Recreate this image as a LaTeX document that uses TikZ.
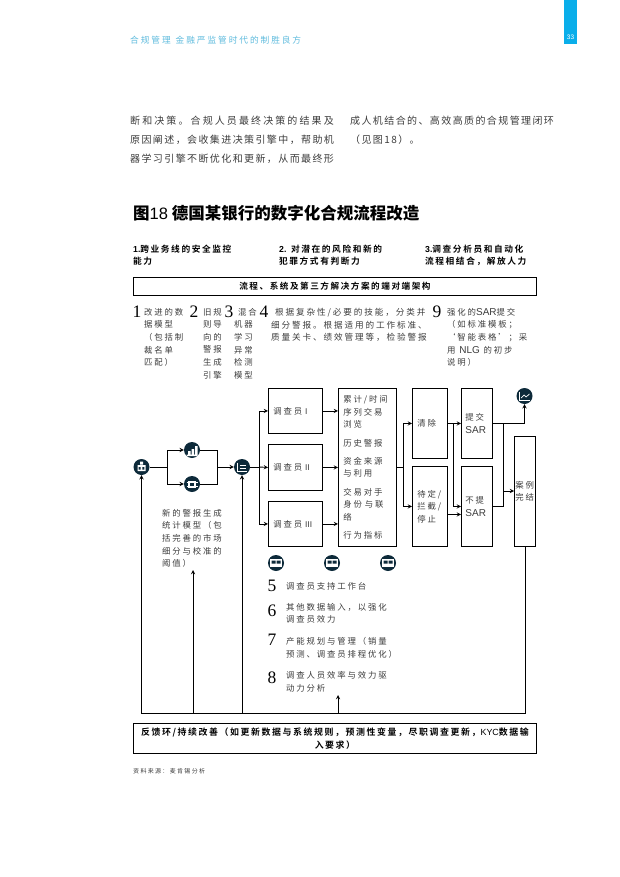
\documentclass[tikz,border=0pt]{standalone}
\usepackage{fontspec}
\setmainfont{Noto Sans CJK SC}
\newfontfamily\arl{Liberation Sans}
\newfontfamily\numf{Liberation Serif}
\newfontfamily\wide[LetterSpace=22]{Noto Sans CJK SC}
\newfontfamily\bodyfont[LetterSpace=14]{Noto Sans CJK SC}
\newfontfamily\bodyfontb[LetterSpace=21]{Noto Sans CJK SC}
\newfontfamily\widebf[LetterSpace=18,BoldFont={Noto Sans CJK SC Bold}]{Noto Sans CJK SC}
\definecolor{navy}{HTML}{0D2A3A}
\definecolor{tabblue}{HTML}{0AAEEA}
\definecolor{headblue}{HTML}{5FBBDD}
\definecolor{ink}{HTML}{3C3C3C}
\tikzset{
	flow/.style={line width=0.9pt,-stealth},
	link/.style={line width=0.9pt},
	box/.style={draw,line width=0.9pt,anchor=north west,inner ysep=0pt,inner xsep=5pt,align=left,text=ink,font=\wide\fontsize{8.4}{12.4}\selectfont},
	bar/.style={draw,line width=0.9pt,anchor=north west,inner sep=0pt,align=center,font=\widebf\bfseries\fontsize{8.6}{13}\selectfont},
	plain/.style={anchor=west,inner sep=0pt,align=left,text=ink,font=\wide\fontsize{8.4}{12.6}\selectfont},
	head/.style={anchor=north west,inner sep=0pt,align=left,font=\widebf\bfseries\fontsize{8.7}{12.3}\selectfont},
	body/.style={anchor=north west,inner sep=0pt,align=left,text=ink,font=\bodyfont\fontsize{10}{19}\selectfont},
	bignum/.style={anchor=center,inner sep=0pt,font=\numf\fontsize{17.5}{18}\selectfont},
	icon/.style={circle,fill=navy,minimum size=16pt,inner sep=0pt}
}
\begin{document}
\begin{tikzpicture}[x=1pt,y=-1pt]
	\useasboundingbox (0,0) rectangle (620,877);
	\fill[tabblue] (564,0) rectangle (577,44);
	\node[inner sep=0pt,text=white,font=\arl\fontsize{6.5}{7}\selectfont] (pageno) at (570.5,37) {33};
	\node[anchor=west,inner sep=0pt,text=headblue,font=\wide\fontsize{8.7}{9}\selectfont] (pagehead) at (130,40) {合规管理\hspace{5pt}金融严监管时代的制胜良方};

	\node[body] (bodyleft) at (130,116) {{\bodyfontb 断和决策。合规人员最终决策的结果及}\\原因阐述，会收集进决策引擎中，帮助机\\器学习引擎不断优化和更新，从而最终形};
	\node[body] (bodyright) at (350,116) {成人机结合的、高效高质的合规管理闭环\\（见图18）。};

	\node[anchor=west,inner sep=0pt,font=\bfseries\fontsize{16.5}{18}\selectfont] (title) at (133,213) {图{\arl\mdseries 18} 德国某银行的数字化合规流程改造};

	\node[head] (headone) at (133,245) {{\arl 1.}跨业务线的安全监控\\能力};
	\node[head] (headtwo) at (279,245) {{\arl 2.} 对潜在的风险和新的\\犯罪方式有判断力};
	\node[head] (headthree) at (425,245) {{\arl 3.}调查分析员和自动化\\流程相结合，解放人力};
	\node[bar,minimum width=403pt,minimum height=18pt] (topbar) at (133,277) {流程、系统及第三方解决方案的端对端架构};

	\node[bignum] (num1) at (137,312) {1};
	\node[bignum] (num2) at (194,312) {2};
	\node[bignum] (num3) at (229,312) {3};
	\node[bignum] (num4) at (264,312) {4};
	\node[bignum] (num9) at (437,312) {9};
	\node[plain,anchor=north west] (text1) at (144,308) {改进的数\\据模型\\（包括制\\裁名单\\匹配）};
	\node[plain,anchor=north west] (text2) at (203,308) {旧规\\则导\\向的\\警报\\生成\\引擎};
	\node[plain,anchor=north west] (text3) at (234,308) {\hspace*{4pt}混合\\机器\\学习\\异常\\检测\\模型};
	\node[plain,anchor=north west,font=\wide\fontsize{8.6}{12.6}\selectfont] (text4) at (271,308) {\hspace*{4pt}根据复杂性/必要的技能，分类并\\细分警报。根据适用的工作标准、\\质量关卡、绩效管理等，检验警报};
	\node[plain,anchor=north west] (text9) at (447,308) {强化的{\arl\fontsize{10}{12.6}\selectfont SAR}提交\\（如标准模板；\\‘智能表格’；采\\用 {\arl\fontsize{10}{12.6}\selectfont NLG} 的初步\\说明）};

	\node[icon] (start) at (141.5,467) {};
	\node[icon] (upper) at (192,450) {};
	\node[icon] (lower) at (192,484) {};
	\node[icon] (hub) at (242,467) {};
	\node[icon] (chart) at (524.5,396) {};
	\node[icon] (deskone) at (276,563) {};
	\node[icon] (desktwo) at (332,563) {};
	\node[icon] (deskthree) at (388,563) {};

	\fill[white] (137.5,465) rectangle (145.5,471) (140,461.5) rectangle (143,464.5);
	\fill[navy] (138.7,467) rectangle (140.7,469.5) (142.3,467) rectangle (144.3,469.5);
	\fill[white] (186.5,454.5) rectangle (197.5,456) (188,451) rectangle (190.5,454.5) (191.5,449) rectangle (194,454.5) (195,446) rectangle (197.5,454.5);
	\fill[white] (188,481) rectangle (196,487.5);
	\fill[navy] (190,483) rectangle (194,485.5);
	\draw[white,line width=0.8pt] (186.5,482.5) -- (197.5,482.5) (186.5,486) -- (197.5,486);
	\draw[white,line width=1pt] (237.5,462.5) -- (237.5,471.5) -- (247,471.5) (240,465) -- (246,465) (240,468.5) -- (246,468.5);
	\draw[white,line width=0.9pt] (519.5,391.5) -- (519.5,400.5) -- (530,400.5);
	\draw[white,line width=0.7pt] (521,398) -- (524,395) -- (526,397) -- (529.5,394);
	\foreach \cx in {276,332,388}{
		\fill[white] (\cx-6,559) rectangle (\cx+6,567);
		\fill[navy] (\cx-4.5,560.5) rectangle (\cx-0.5,563.5) (\cx+0.5,560.5) rectangle (\cx+4.5,563.5);
	}

	\node[box,text width=44pt,minimum height=45pt] (invone) at (268,388) {调查员 {\arl I}};
	\node[box,text width=44pt,minimum height=46pt] (invtwo) at (268,444) {调查员 {\arl II}};
	\node[box,text width=44pt,minimum height=45pt] (invthree) at (268,501) {调查员 {\arl III}};
	\node[box,text width=48pt,minimum height=158pt] (tools) at (338,388) {累计/时间\\序列交易\\浏览\\[6pt]历史警报\\[6pt]资金来源\\与利用\\[6pt]交易对手\\身份 与联\\络\\[6pt]行为指标};
	\node[box,text width=25pt,minimum height=70pt] (clear) at (412,388) {清除};
	\node[box,text width=25pt,minimum height=80pt] (hold) at (412,466) {待定/\\拦截/\\停止};
	\node[box,inner xsep=4pt,text width=23pt,minimum height=70pt] (submit) at (461,388) {提交\\{\arl\fontsize{10}{12.4}\selectfont SAR}};
	\node[box,inner xsep=4pt,text width=23pt,minimum height=80pt] (nosubmit) at (461,466) {不提\\{\arl\fontsize{10}{12.4}\selectfont SAR}};
	\node[box,inner xsep=1pt,text width=19pt,minimum height=110pt] (closed) at (514,436) {案例\\完结};

	\coordinate (leftsplit) at (167,467);
	\coordinate (leftmerge) at (217,467);
	\coordinate (hubsplit) at (259,467);
	\coordinate (toolsplit) at (403,467);
	\coordinate (clearsplit) at (453,423);
	\coordinate (sarjoin) at (503,423);
	\coordinate (closein) at (503,491);
	\coordinate (loopleft) at (141.5,713);
	\coordinate (loopnote) at (193,713);
	\coordinate (loophub) at (242,713);
	\coordinate (loopdesk) at (338,713);
	\coordinate (noteend) at (193,570);
	\coordinate (deskend) at (338,695);

	\draw[link] (start) -- (leftsplit);
	\draw[flow] (leftsplit) |- (upper);
	\draw[flow] (leftsplit) |- (lower);
	\draw[link] (upper) -| (leftmerge);
	\draw[link] (lower) -| (leftmerge);
	\draw[flow] (leftmerge) -- (hub);
	\draw[link] (hub) -- (hubsplit);
	\draw[flow] (hubsplit) |- (invone.west);
	\draw[flow] (hubsplit) -- (invtwo.west);
	\draw[flow] (hubsplit) |- (invthree.west);
	\draw[flow] (invone.east) -- (tools.west |- invone.east);
	\draw[flow] (invtwo.east) -- (tools.west |- invtwo.east);
	\draw[flow] (invthree.east) -- (tools.west |- invthree.east);
	\draw[link] (tools.east |- toolsplit) -- (toolsplit);
	\draw[flow] (toolsplit) |- (clear.west);
	\draw[flow] (toolsplit) |- (hold.west);
	\draw[flow] (clear.east) -- (submit.west);
	\draw[flow] (clearsplit) |- (nosubmit.west);
	\draw[flow] ([yshift=-8pt]hold.east) -- ([yshift=-8pt]nosubmit.west);
	\draw[flow] (submit.east) -| (chart.south);
	\draw[link] (nosubmit.east) -| (sarjoin);
	\draw[flow] (closein) -- (closed.west |- closein);
	\draw[flow] (closed.south) |- (loopleft) -- (start.south);
	\draw[flow] (loopnote) -- (noteend);
	\draw[flow] (loophub) -- (hub.south);
	\draw[flow] (loopdesk) -- (deskend);

	\node[plain,anchor=north west] (note) at (162,509) {新的警报生成\\统计模型（包\\括完善的市场\\细分与校准的\\阈值）};

	\node[bignum] (num5) at (272,586) {5};
	\node[bignum] (num6) at (272,611) {6};
	\node[bignum] (num7) at (272,640) {7};
	\node[bignum] (num8) at (272,678) {8};
	\node[plain] (text5) at (286,586) {调查员支持工作台};
	\node[plain] (text6) at (286,613.5) {其他数据输入，以强化\\调查员效力};
	\node[plain] (text7) at (286,648) {产能规划与管理（销量\\预测、调查员排程优化）};
	\node[plain] (text8) at (286,682) {调查人员效率与效力驱\\动力分析};

	\node[bar,text width=403pt,minimum height=30pt,font=\widebf\bfseries\fontsize{8.9}{13}\selectfont] (feedback) at (133,723) {反馈环/持续改善（如更新数据与系统规则，预测性变量，尽职调查更新，{\arl\mdseries KYC}数据输\\入要求）};
	\node[anchor=west,inner sep=0pt,text=ink,font=\wide\fontsize{6}{8}\selectfont] (source) at (133,771) {资料来源：麦肯锡分析};
\end{tikzpicture}
\end{document}
